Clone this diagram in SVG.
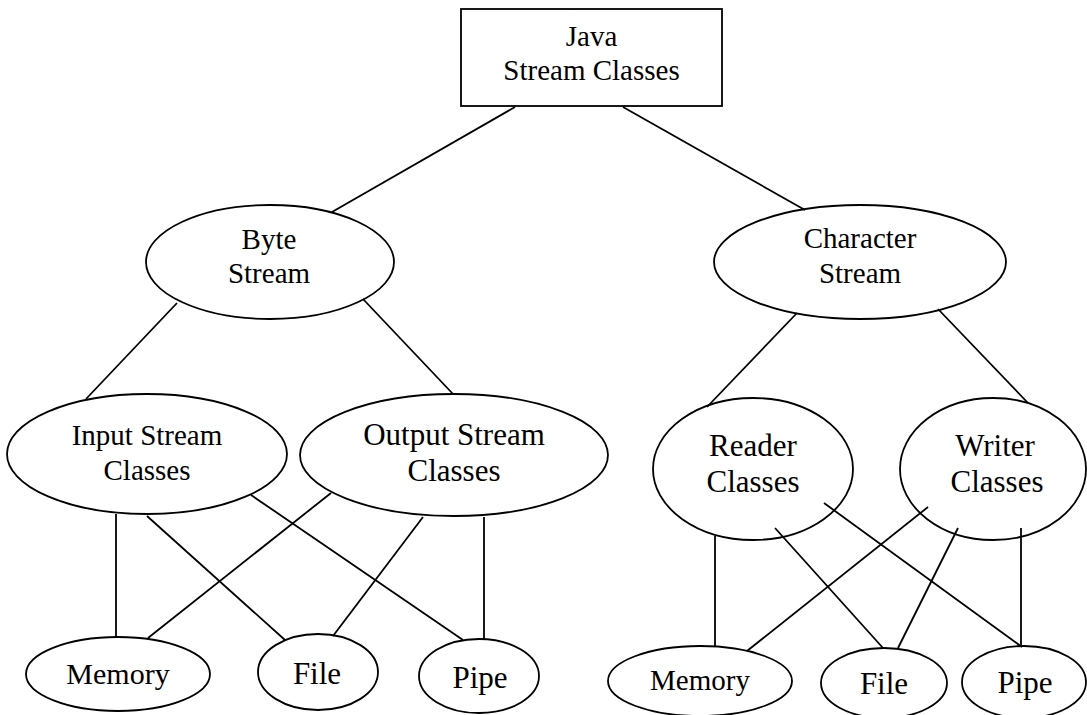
<svg xmlns="http://www.w3.org/2000/svg" width="1087" height="715" viewBox="0 0 1087 715">
  <style>
    .shape { fill: none; stroke: #000; stroke-width: 1.8; }
    .link { stroke: #000; stroke-width: 1.8; fill: none; }
    text { font-family: "Liberation Serif", "Times New Roman", serif; fill: #000; text-anchor: middle; }
    .t29 { font-size: 29px; }
    .t31 { font-size: 31px; }
    .t30 { font-size: 30px; }
  </style>
  <rect width="1087" height="715" fill="#fff"/>

  <!-- connectors -->
  <g id="connectors" class="link">
    <line x1="515" y1="107" x2="332" y2="212"/>
    <line x1="623" y1="107" x2="805" y2="210"/>
    <line x1="177" y1="303" x2="86" y2="399"/>
    <line x1="363" y1="299" x2="453" y2="394"/>
    <line x1="797" y1="313" x2="707" y2="407"/>
    <line x1="938" y1="309" x2="1028" y2="403"/>
    <!-- byte stream leaves -->
    <line x1="116" y1="514" x2="116" y2="637"/>
    <line x1="147" y1="516" x2="285" y2="640"/>
    <line x1="251" y1="495" x2="463" y2="640"/>
    <line x1="331" y1="493" x2="148" y2="638"/>
    <line x1="423" y1="517" x2="333" y2="636"/>
    <line x1="484" y1="517" x2="484" y2="639"/>
    <!-- character stream leaves -->
    <line x1="715" y1="536" x2="715" y2="646"/>
    <line x1="775" y1="528" x2="883" y2="648"/>
    <line x1="824" y1="503" x2="1022" y2="647"/>
    <line x1="928" y1="507" x2="747" y2="651"/>
    <line x1="958" y1="528" x2="898" y2="648"/>
    <line x1="1021" y1="528" x2="1021" y2="647"/>
  </g>

  <g id="java-stream-classes">
    <rect class="shape" x="461" y="9" width="261" height="97"/>
    <text class="t29" x="591.5" y="46">Java</text>
    <text class="t29" x="591.5" y="80">Stream Classes</text>
  </g>

  <g id="byte-stream">
    <ellipse class="shape" cx="270" cy="262" rx="124" ry="57"/>
    <text class="t29" x="269" y="249">Byte</text>
    <text class="t29" x="269" y="283">Stream</text>
  </g>

  <g id="character-stream">
    <ellipse class="shape" cx="860" cy="262" rx="146" ry="57"/>
    <text class="t29" x="860" y="248">Character</text>
    <text class="t29" x="860" y="283">Stream</text>
  </g>

  <g id="input-stream-classes">
    <ellipse class="shape" cx="147" cy="454" rx="140" ry="60"/>
    <text class="t29" x="147" y="445">Input Stream</text>
    <text class="t29" x="147" y="480">Classes</text>
  </g>

  <g id="output-stream-classes">
    <ellipse class="shape" cx="454" cy="455" rx="154" ry="61"/>
    <text class="t31" x="454" y="445">Output Stream</text>
    <text class="t31" x="454" y="481">Classes</text>
  </g>

  <g id="reader-classes">
    <ellipse class="shape" cx="753" cy="469" rx="100" ry="71"/>
    <text class="t31" x="753" y="456">Reader</text>
    <text class="t31" x="753" y="492">Classes</text>
  </g>

  <g id="writer-classes">
    <ellipse class="shape" cx="993" cy="469" rx="93" ry="71"/>
    <text class="t31" x="995" y="456">Writer</text>
    <text class="t31" x="997" y="492">Classes</text>
  </g>

  <g id="byte-memory">
    <ellipse class="shape" cx="118" cy="674" rx="92" ry="37"/>
    <text class="t30" x="118" y="684">Memory</text>
  </g>
  <g id="byte-file">
    <ellipse class="shape" cx="318" cy="672" rx="60" ry="38"/>
    <text class="t31" x="317" y="684">File</text>
  </g>
  <g id="byte-pipe">
    <ellipse class="shape" cx="479" cy="676" rx="60" ry="37"/>
    <text class="t31" x="480" y="688">Pipe</text>
  </g>

  <g id="char-memory">
    <ellipse class="shape" cx="700" cy="681" rx="92" ry="35"/>
    <text class="t29" x="700" y="690">Memory</text>
  </g>
  <g id="char-file">
    <ellipse class="shape" cx="884" cy="683" rx="63" ry="35"/>
    <text class="t31" x="884" y="694">File</text>
  </g>
  <g id="char-pipe">
    <ellipse class="shape" cx="1024" cy="682" rx="62" ry="36"/>
    <text class="t31" x="1025" y="693">Pipe</text>
  </g>
</svg>
